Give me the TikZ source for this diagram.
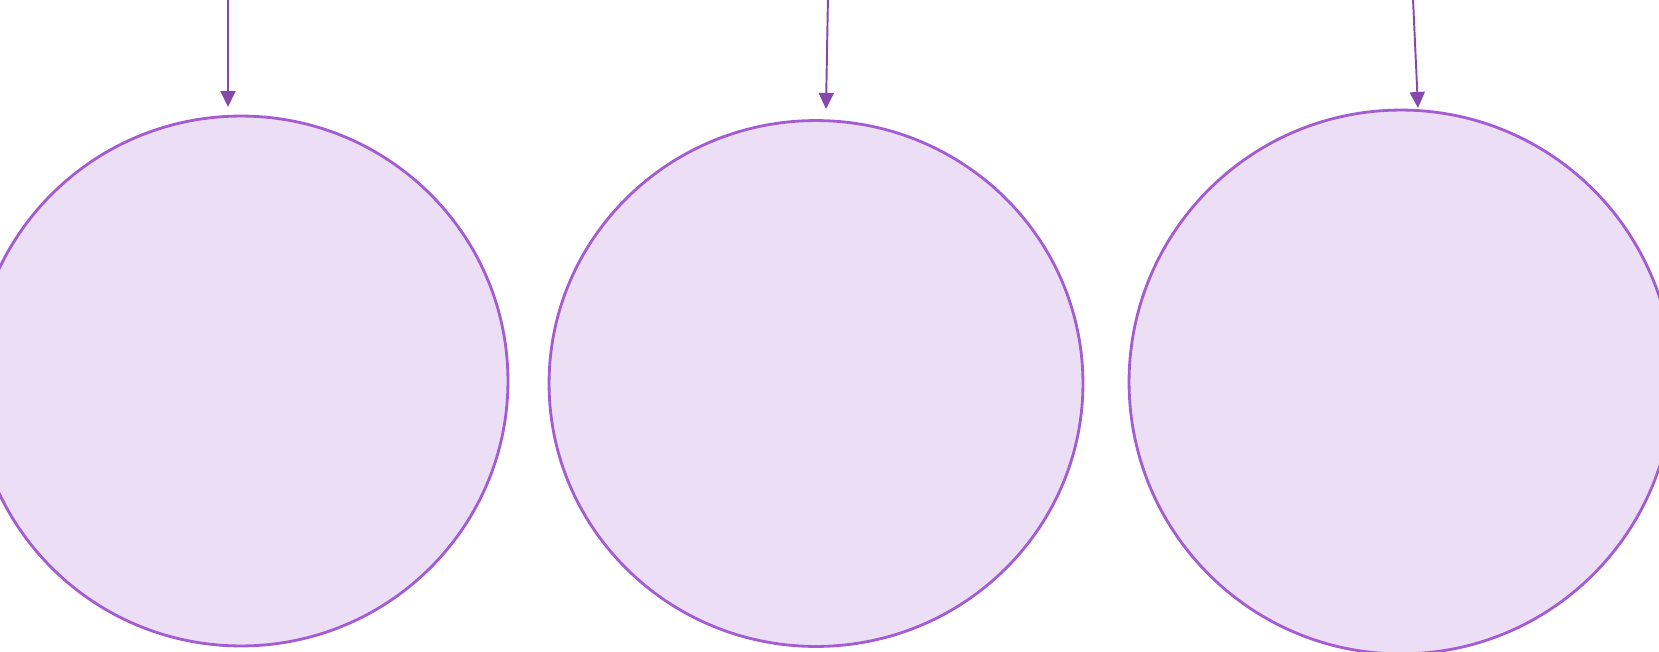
\documentclass[tikz,border=0pt]{standalone}
\usepackage{tikz}
\usetikzlibrary{arrows.meta,shapes.geometric}
\definecolor{lilac}{RGB}{236,223,245}
\definecolor{lilacline}{RGB}{163,92,210}
\definecolor{plum}{RGB}{134,72,172}
\begin{document}
\begin{tikzpicture}[x=0.02cm, y=-0.02cm, blob/.style={draw=lilacline, fill=lilac, ellipse, line width=1.6pt, inner sep=0pt}, feed/.style={plum, line width=1.1pt, -{Triangle[width=0.3cm, length=0.32cm]}}]
	\useasboundingbox (0,0) rectangle (1659,652);
	\clip (0,0) rectangle (1659,652);
	\node[blob, minimum width=10.68cm, minimum height=10.6cm] (e1) at (241,381) {};
	\node[blob, minimum width=10.68cm, minimum height=10.52cm] (e2) at (816,383.5) {};
	\node[blob, minimum width=10.88cm, minimum height=10.88cm] (e3) at (1401,382) {};
	\coordinate (s1) at (228,-5); \coordinate (t1) at (228,107);
	\coordinate (s2) at (828,-5); \coordinate (t2) at (826,109);
	\coordinate (s3) at (1412.8,-5); \coordinate (t3) at (1418,108);
	\foreach \k in {1,2,3} {\draw[feed] (s\k) -- (t\k);}
\end{tikzpicture}
\end{document}
